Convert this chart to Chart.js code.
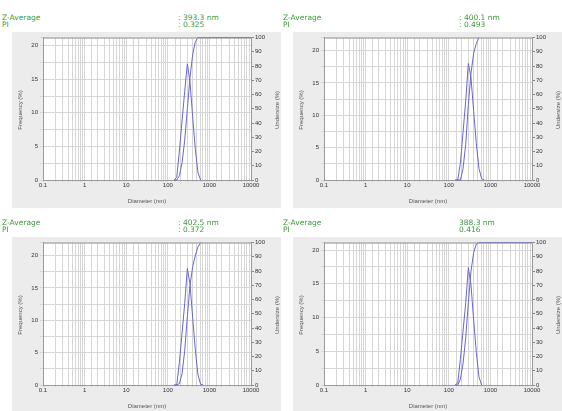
<!DOCTYPE html>
<html>
<head>
<meta charset="utf-8">
<script src="https://cdn.jsdelivr.net/npm/chart.js@4.4.1/dist/chart.umd.min.js"></script>
<style>
  body { margin: 0; background: #fff; }
  #wrap { position: relative; width: 562px; height: 411px; overflow: hidden; font-family: "DejaVu Sans", sans-serif; }
  .panel { position: absolute; width: 281px; height: 210px; }
  .panel canvas { position: absolute; left: 12px; top: 32px; background: #ececec; }
  .hdr { position: absolute; font-size: 7.5px; line-height: 8px; color: #3d9a3d; white-space: nowrap; }
  .ytitle { position: absolute; width: 70px; height: 8px; line-height: 8px; font-size: 6px; color: #555;
            text-align: center; transform: rotate(-90deg); font-family: "Liberation Sans", sans-serif; }
  .xtitle { position: absolute; left: 107px; width: 80px; top: 198px; font-size: 6px; color: #555;
            text-align: center; font-family: "Liberation Sans", sans-serif; }
</style>
</head>
<body>
<div id="wrap"></div>
<script>
// size bins (nm) shared by the four measurements
const sizeNm = [142, 164, 190, 220, 255, 295, 342, 396, 459, 531, 615, 712, 10000];

const freq1 = [0, 0.4, 4.3, 8.8, 13.2, 17.3, 14.6, 9.4, 4.6, 1.1, 0, null, null];
const under1 = [0, 0, 3, 12, 28, 50, 72, 88, 97, 100, 100, 100, 100];

const freq2 = [0, 0, 2.6, 7.4, 12.2, 18.0, 15.8, 10.6, 5.6, 1.8, 0.2, 0, null];
const under2 = [0, 0, 0, 8, 25, 53, 75, 89, 96, 100, null, null, null];

const freq3 = [0, 0, 3.5, 8.0, 12.6, 18.0, 15.6, 10.4, 5.4, 1.6, 0.1, 0, null];
const under3 = [0, 0, 1, 8, 24, 48, 70, 83, 91, 97, 100, null, null];

const freq4 = [0, 0.3, 3.8, 8.0, 12.2, 17.4, 14.8, 9.6, 4.8, 1.2, 0, null, null];
const under4 = [0, 0, 4, 15, 33, 58, 80, 93, 99, 100, 100, 100, 100];

const zAverage = [": 393.3 nm", ": 400.1 nm", ": 402.5 nm", "388.3 nm"];
const pdiValues = [": 0.325", ": 0.493", ": 0.372", "0.416"];
const freqMax = [21.2, 22.0, 22.0, 21.1];
const decadeLabels = ["0.1", "1", "10", "100", "1000", "10000"];

const freqSets = [freq1, freq2, freq3, freq4];
const underSets = [under1, under2, under3, under4];
const panelPos = [[0, 0], [281, 0], [0, 205], [281, 205]];

const lineColor = "#6868c8";
const gridColor = "#d6d6d6";

function toPoints(values) {
  return sizeNm.map((s, i) => ({ x: s, y: values[i] }));
}

const plotFrame = {
  id: "plotFrame",
  beforeDatasetsDraw(chart) {},
  beforeDraw(chart) {
    const { ctx, chartArea: a } = chart;
    ctx.save();
    ctx.fillStyle = "#ffffff";
    ctx.fillRect(a.left, a.top, a.right - a.left, a.bottom - a.top);
    ctx.restore();
  },
  afterDatasetsDraw(chart) {
    const { ctx, chartArea: a } = chart;
    ctx.save();
    ctx.strokeStyle = "#9a9a9a";
    ctx.lineWidth = 1;
    ctx.beginPath();
    ctx.moveTo(a.left, a.top + 0.5);
    ctx.lineTo(a.right, a.top + 0.5);
    ctx.stroke();
    ctx.restore();
  }
};

function buildPanel(i) {
  const wrap = document.getElementById("wrap");
  const panel = document.createElement("div");
  panel.className = "panel";
  panel.style.left = panelPos[i][0] + "px";
  panel.style.top = panelPos[i][1] + "px";
  panel.innerHTML =
    '<div class="hdr" style="left:2px;top:14px">Z-Average</div>' +
    '<div class="hdr" style="left:2px;top:21px">PI</div>' +
    '<div class="hdr" style="left:178px;top:14px">' + zAverage[i] + '</div>' +
    '<div class="hdr" style="left:178px;top:21px">' + pdiValues[i] + '</div>';
  const canvas = document.createElement("canvas");
  canvas.width = 269;
  canvas.height = 176;
  panel.appendChild(canvas);
  panel.insertAdjacentHTML("beforeend",
    '<div class="ytitle" style="left:-15px;top:106px">Frequency (%)</div>' +
    '<div class="ytitle" style="left:242px;top:106px">Undersize (%)</div>' +
    '<div class="xtitle">Diameter (nm)</div>');
  wrap.appendChild(panel);

  const tickFont = { family: "Liberation Sans", size: 6 };

  new Chart(canvas, {
    type: "line",
    data: {
      datasets: [
        {
          label: "Frequency",
          data: toPoints(freqSets[i]),
          yAxisID: "yF",
          borderColor: lineColor,
          borderWidth: 1,
          pointRadius: 0,
          tension: 0
        },
        {
          label: "Undersize",
          data: toPoints(underSets[i]),
          yAxisID: "yU",
          borderColor: lineColor,
          borderWidth: 1,
          pointRadius: 0,
          tension: 0,
          clip: 3
        }
      ]
    },
    options: {
      responsive: false,
      animation: false,
      layout: { padding: { top: 3, left: 0, right: 0, bottom: 0 } },
      plugins: { legend: { display: false }, tooltip: { enabled: false } },
      scales: {
        x: {
          type: "logarithmic",
          min: 0.1,
          max: 10000,
          afterFit(scale) { scale.height = 28; },
          grid: { color: gridColor, tickLength: 2 },
          border: { color: "#9a9a9a" },
          ticks: {
            autoSkip: false,
            maxRotation: 0,
            padding: 0,
            color: "#333",
            font: tickFont,
            callback(value) {
              const l = Math.log10(value);
              if (Math.abs(l - Math.round(l)) < 1e-6) {
                return decadeLabels[Math.round(l) + 1];
              }
              return "";
            }
          }
        },
        yF: {
          position: "left",
          min: 0,
          max: freqMax[i],
          afterFit(scale) { scale.width = 31; },
          grid: { color: gridColor, tickLength: 3 },
          border: { color: "#9a9a9a" },
          ticks: {
            stepSize: 2.5,
            padding: 2,
            color: "#333",
            font: tickFont,
            callback(value) {
              return Math.abs(value % 5) < 1e-6 ? String(value) : "";
            }
          }
        },
        yU: {
          position: "right",
          min: 0,
          max: 100,
          afterFit(scale) { scale.width = 30; },
          grid: { drawOnChartArea: false, tickLength: 3, color: "#888" },
          border: { color: "#9a9a9a" },
          ticks: { stepSize: 10, padding: 1, color: "#333", font: tickFont }
        }
      }
    },
    plugins: [plotFrame]
  });
}

for (let i = 0; i < 4; i++) buildPanel(i);
</script>
</body>
</html>
